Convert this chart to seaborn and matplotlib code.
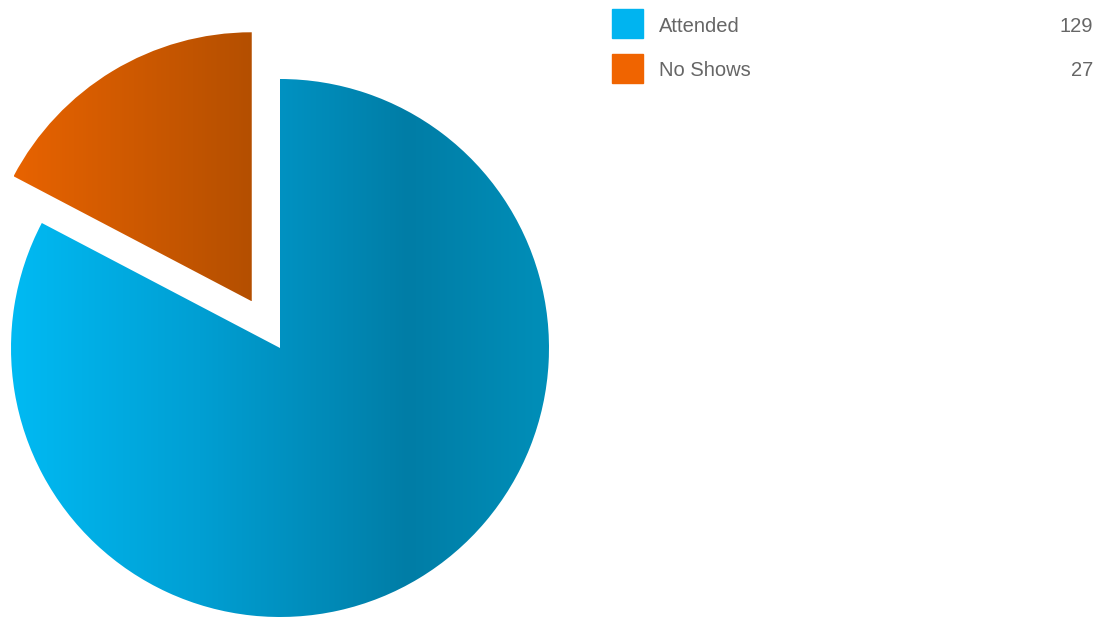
import matplotlib.pyplot as plt
import seaborn as sns
import numpy as np
from matplotlib.colors import LinearSegmentedColormap

labels = ['Attended', 'No Shows']
counts = [129, 27]
legend_colors = ['#00b4f0', '#f06400']

sns.set_theme(style='white')
plt.rcParams['font.family'] = ['Liberation Sans', 'DejaVu Sans']

W, H = 1103, 617
fig = plt.figure(figsize=(W / 100, H / 100), dpi=100)
fig.patch.set_facecolor('white')

# pie centre (280, 348) px, radius 269 px; axes cover the whole figure
cx, cy, r = 280, 348, 269
ax = fig.add_axes([0, 0, 1, 1])
wedges, _ = ax.pie(counts, startangle=90, counterclock=False,
                   explode=[0, 0.203], radius=1,
                   wedgeprops=dict(linewidth=0))
xlim = (-cx / r, (W - cx) / r)
ylim = (-(H - cy) / r, cy / r)
ax.set_xlim(*xlim)
ax.set_ylim(*ylim)
ax.set_aspect('auto')
ax.axis('off')

# horizontal gradients clipped to each wedge
blue = LinearSegmentedColormap.from_list(
    'b', [(0, '#00baf3'), (0.35, '#009fd3'), (0.74, '#007da6'), (1, '#008fb9')])
orange = LinearSegmentedColormap.from_list(
    'o', [(0, '#e86300'), (1, '#b44f00')])
grad = np.linspace(0, 1, 512).reshape(1, -1)
for w, cmap in zip(wedges, [blue, orange]):
    w.set_facecolor('none')
    bb = w.get_path().get_extents(w.get_transform() + ax.transData.inverted())
    im = ax.imshow(grad, cmap=cmap, aspect='auto', interpolation='bicubic',
                   extent=[bb.x0, bb.x1, bb.y0, bb.y1], zorder=1)
    im.set_clip_path(w)
ax.set_xlim(*xlim)
ax.set_ylim(*ylim)

# legend drawn in pixel coords
def fx(px):
    return px / W

def fy(py):
    return 1 - py / H

for i, (lab, n, c) in enumerate(zip(labels, counts, legend_colors)):
    top = 9 + i * 45
    fig.patches.append(plt.Rectangle((fx(612), fy(top + 29)), 31 / W, 29 / H,
                                     transform=fig.transFigure, color=c))
    fig.text(fx(659), fy(top + 17), lab, fontsize=14.5, color='#666666',
             va='center', ha='left')
    fig.text(fx(1093), fy(top + 17), str(n), fontsize=14.5, color='#666666',
             va='center', ha='right')

fig.savefig('out.png', dpi=100, facecolor='white')
